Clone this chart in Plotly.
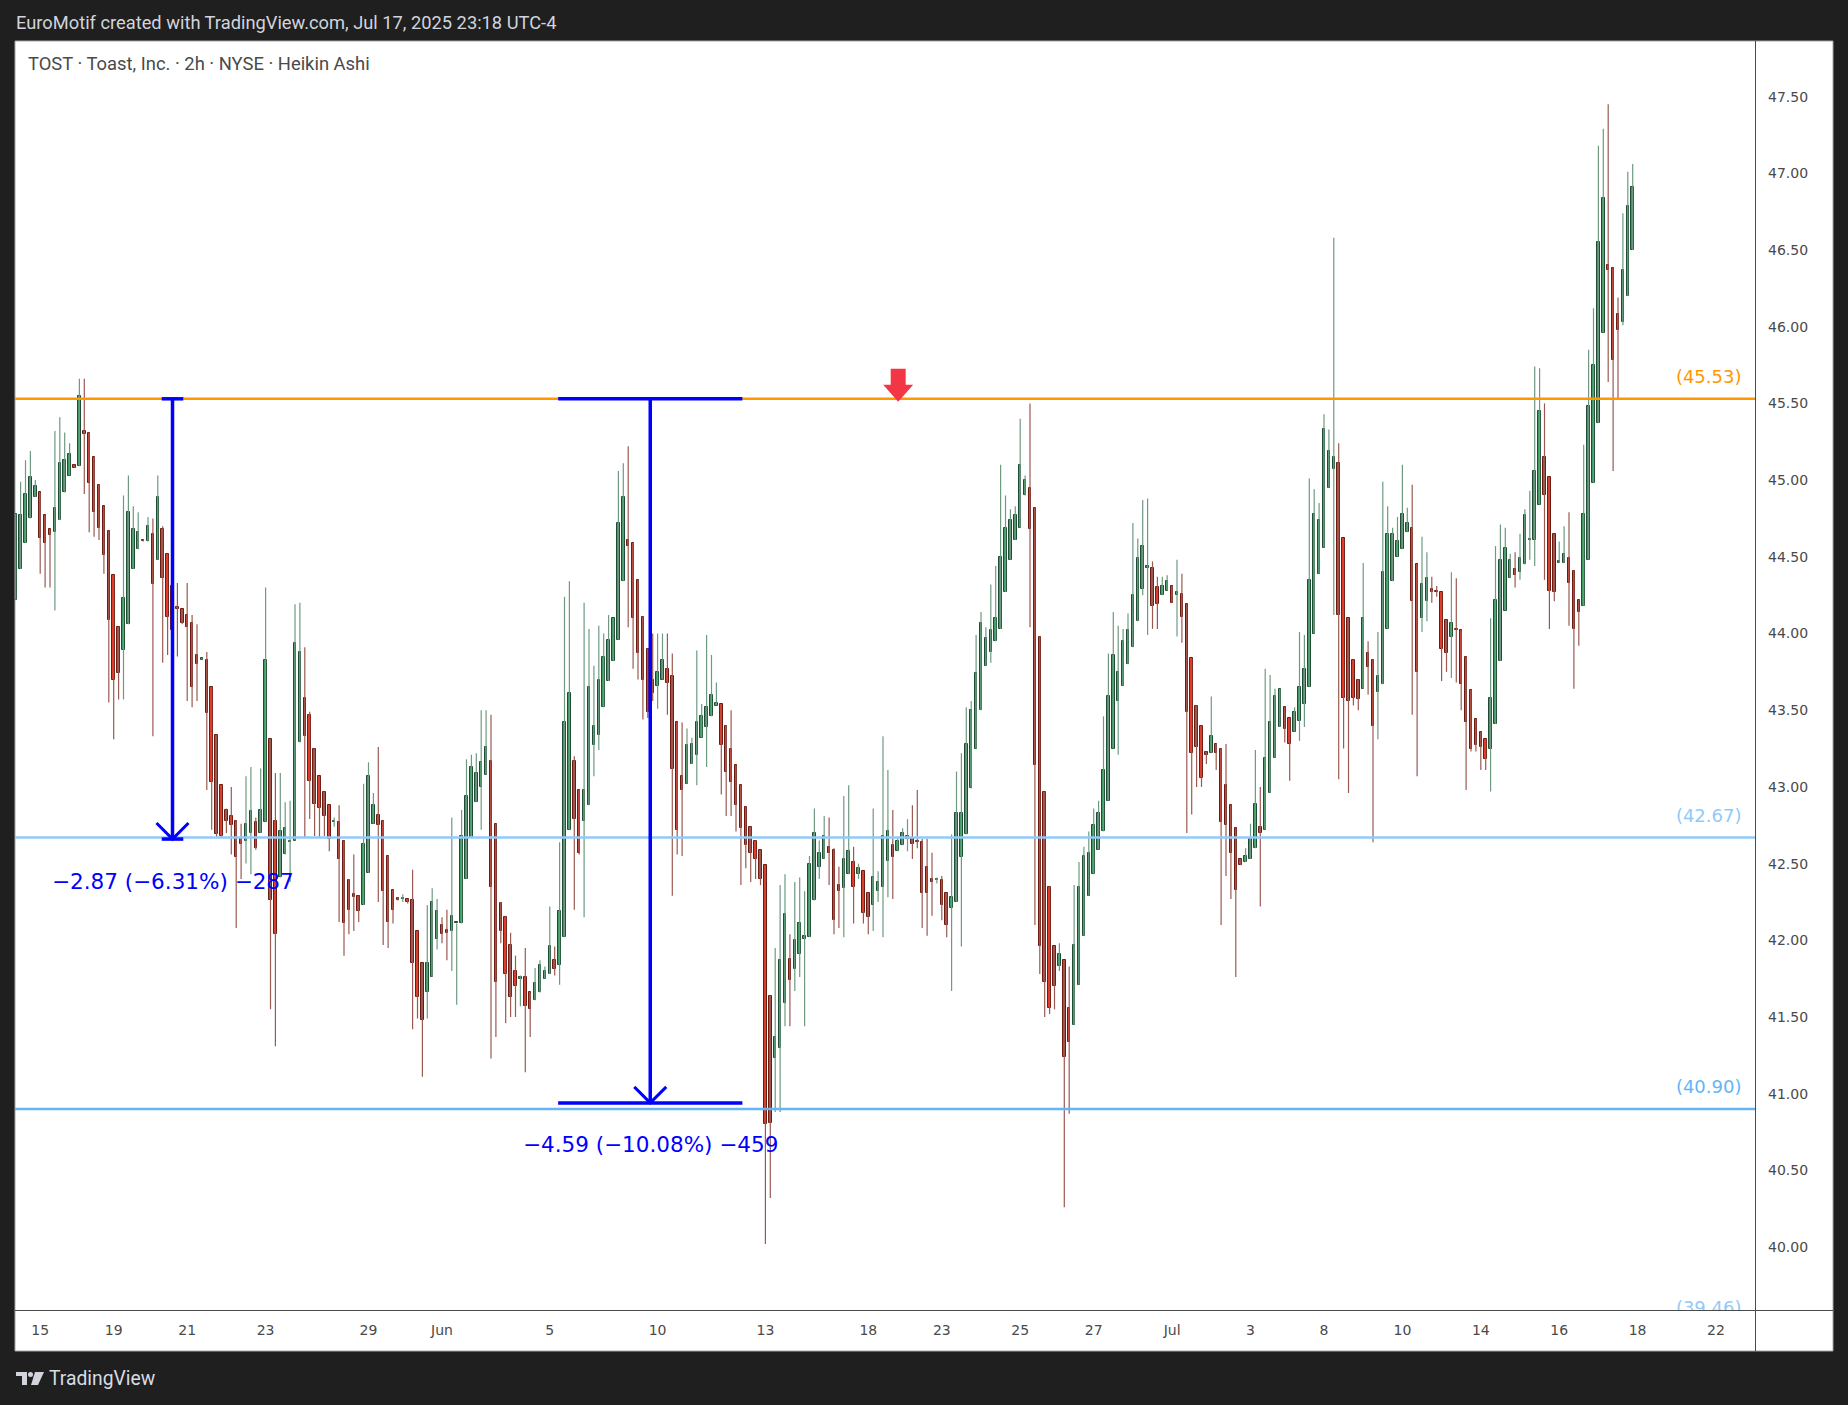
import plotly.graph_objects as go

# ---------------- data (Heikin Ashi, 2h bars, TOST) ----------------
ha_open = [
    44.22, 44.42, 44.59, 44.75, 44.89, 44.92, 44.77, 44.68, 44.66, 44.74,
    44.92, 45.03, 45.10, 45.09, 45.32, 45.31, 45.15, 44.97, 44.83, 44.67,
    44.38, 44.04, 43.89, 44.06, 44.42, 44.55, 44.61, 44.60, 44.65, 44.48,
    44.68, 44.52, 44.31, 44.17, 44.16, 44.12, 44.07, 43.86, 43.83, 43.83,
    43.65, 43.34, 43.01, 42.85, 42.81, 42.78, 42.66, 42.65, 42.70, 42.77,
    42.70, 42.77, 43.31, 42.78, 42.41, 42.56, 42.64, 42.65, 43.29, 43.58,
    43.47, 43.25, 43.07, 42.97, 42.88, 42.77, 42.77, 42.65, 42.39, 42.30,
    42.29, 42.23, 42.44, 42.76, 42.82, 42.78, 42.55, 42.33, 42.27, 42.27,
    42.27, 42.26, 42.06, 41.85, 41.66, 41.76, 42.01, 42.10, 42.07, 42.06,
    42.11, 42.11, 42.40, 42.67, 42.90, 43.00, 43.08, 43.17, 42.76, 42.24,
    42.15, 41.97, 41.80, 41.75, 41.76, 41.66, 41.61, 41.66, 41.75, 41.78,
    41.87, 41.84, 42.02, 42.72, 43.17, 42.98, 42.78, 42.88, 43.27, 43.34,
    43.52, 43.69, 43.82, 43.96, 44.34, 44.61, 44.59, 44.35, 44.11, 43.90,
    43.70, 43.66, 43.70, 43.77, 43.72, 43.42, 43.07, 43.02, 43.15, 43.21,
    43.32, 43.39, 43.46, 43.53, 43.54, 43.40, 43.25, 43.14, 43.01, 42.87,
    42.74, 42.65, 42.59, 42.49, 41.64, 41.23, 41.30, 41.59, 41.88, 41.81,
    41.91, 42.01, 42.02, 42.26, 42.48, 42.53, 42.61, 42.59, 42.36, 42.34,
    42.43, 42.51, 42.43, 42.45, 42.31, 42.23, 42.32, 42.35, 42.52, 42.62,
    42.58, 42.62, 42.66, 42.67, 42.65, 42.64, 42.48, 42.40, 42.39, 42.39,
    42.31, 42.21, 42.25, 42.54, 42.69, 42.99, 43.25, 43.50, 43.79, 43.88,
    43.95, 44.03, 44.27, 44.48, 44.61, 44.69, 44.90, 44.95, 44.82, 43.98,
    42.97, 42.35, 41.96, 41.83, 41.87, 41.56, 41.45, 41.71, 42.03, 42.29,
    42.43, 42.59, 42.71, 42.91, 43.25, 43.56, 43.66, 43.80, 43.91, 44.08,
    44.29, 44.43, 44.43, 44.30, 44.25, 44.28, 44.31, 44.25, 44.26, 44.19,
    43.84, 43.53, 43.40, 43.23, 43.22, 43.28, 43.25, 43.01, 42.88, 42.73,
    42.53, 42.51, 42.53, 42.60, 42.74, 42.72, 42.96, 43.19, 43.39, 43.52,
    43.45, 43.36, 43.43, 43.54, 43.65, 44.00, 44.39, 44.56, 44.95, 45.07,
    45.11, 44.62, 44.10, 43.83, 43.70, 43.64, 43.87, 43.83, 43.62, 43.67,
    44.03, 44.34, 44.50, 44.55, 44.66, 44.69, 44.45, 44.10, 44.21, 44.29,
    44.28, 44.27, 44.09, 43.98, 44.03, 44.02, 43.85, 43.63, 43.44, 43.36,
    43.31, 43.25, 43.41, 43.82, 44.15, 44.36, 44.42, 44.40, 44.45, 44.61,
    44.61, 44.84, 45.15, 45.02, 44.65, 44.46, 44.46, 44.49, 44.41, 44.22,
    44.18, 44.48, 44.98, 45.37, 45.96, 46.40, 46.38, 46.08, 46.03, 46.20,
    46.50,
]
ha_high = [
    44.78, 44.99, 45.13, 45.19, 45.00, 44.92, 44.77, 44.68, 45.32, 45.41,
    45.31, 45.24, 45.10, 45.66, 45.66, 45.31, 45.15, 44.97, 44.83, 44.67,
    44.38, 44.04, 44.90, 45.03, 44.83, 44.79, 44.61, 44.76, 44.75, 45.03,
    44.70, 44.52, 44.31, 44.33, 44.16, 44.33, 44.12, 44.06, 43.84, 43.88,
    43.65, 43.34, 43.01, 42.86, 43.00, 42.78, 42.76, 43.07, 43.13, 42.80,
    43.12, 44.30, 43.31, 43.09, 43.09, 42.90, 42.91, 44.19, 44.20, 43.91,
    43.49, 43.25, 43.07, 42.97, 42.88, 42.80, 42.88, 42.65, 42.40, 42.56,
    42.29, 43.02, 43.16, 42.96, 43.26, 42.78, 42.55, 42.33, 42.28, 42.30,
    42.27, 42.46, 42.06, 41.85, 42.23, 42.34, 42.27, 42.15, 42.20, 42.80,
    42.11, 42.85, 43.18, 43.21, 43.22, 43.50, 43.50, 43.47, 42.76, 42.25,
    42.16, 42.05, 41.90, 41.77, 41.95, 41.66, 41.82, 41.87, 41.83, 42.22,
    41.96, 42.64, 44.24, 44.34, 43.20, 42.98, 44.20, 44.03, 43.79, 44.05,
    44.00, 44.12, 44.10, 45.06, 45.11, 45.22, 44.59, 44.35, 44.11, 43.90,
    44.00, 44.00, 44.00, 44.00, 43.87, 43.42, 43.42, 43.38, 43.32, 43.89,
    43.54, 43.99, 43.86, 43.68, 43.54, 43.40, 43.50, 43.14, 43.01, 42.87,
    42.74, 42.65, 42.59, 42.49, 41.64, 41.95, 42.36, 42.43, 42.04, 42.38,
    42.41, 42.32, 42.55, 42.86, 42.65, 42.81, 42.80, 42.60, 42.48, 42.94,
    43.01, 42.61, 42.50, 42.45, 42.31, 42.86, 42.45, 43.33, 43.11, 42.85,
    42.67, 42.73, 42.79, 42.88, 42.98, 42.66, 42.66, 42.57, 42.41, 42.42,
    42.31, 42.69, 43.10, 43.22, 43.52, 43.56, 43.99, 44.14, 44.04, 44.32,
    44.44, 45.10, 44.90, 44.81, 44.83, 45.40, 45.03, 45.50, 44.82, 43.98,
    42.97, 42.35, 41.96, 41.98, 41.87, 41.83, 42.36, 42.51, 42.61, 42.71,
    42.86, 42.91, 43.46, 43.87, 44.14, 44.05, 44.03, 44.13, 44.72, 44.62,
    44.87, 44.88, 44.47, 44.37, 44.37, 44.38, 44.31, 44.48, 44.39, 44.19,
    43.84, 43.53, 43.40, 43.23, 43.59, 43.28, 43.25, 43.28, 42.88, 42.73,
    42.53, 42.60, 42.76, 43.24, 43.00, 43.77, 43.73, 43.64, 43.64, 43.52,
    43.45, 43.52, 44.01, 43.99, 45.01, 44.94, 44.85, 45.43, 45.33, 46.58,
    45.24, 44.62, 44.10, 43.83, 43.70, 44.46, 43.95, 43.83, 44.01, 44.99,
    44.83, 44.69, 44.76, 45.10, 44.82, 44.97, 44.45, 44.63, 44.53, 44.37,
    44.31, 44.27, 44.09, 44.40, 44.36, 44.02, 43.85, 43.63, 43.44, 43.36,
    43.31, 44.10, 44.57, 44.71, 44.69, 44.52, 44.53, 44.65, 44.81, 44.93,
    45.74, 45.73, 45.50, 45.02, 44.65, 44.60, 44.70, 44.79, 44.41, 44.22,
    45.23, 45.85, 46.12, 47.18, 47.29, 47.45, 46.38, 46.19, 46.74, 47.01,
    47.06,
]
ha_low = [
    44.22, 44.42, 44.59, 44.75, 44.89, 44.39, 44.30, 44.30, 44.15, 44.74,
    44.92, 45.03, 45.08, 45.09, 44.91, 44.66, 44.63, 44.61, 44.39, 43.55,
    43.31, 43.57, 43.57, 44.06, 44.42, 44.55, 44.60, 44.60, 43.33, 44.48,
    43.81, 43.86, 43.82, 43.85, 44.06, 43.56, 43.52, 43.56, 43.83, 42.98,
    42.72, 42.67, 42.67, 42.70, 42.56, 42.08, 42.40, 42.50, 42.43, 42.59,
    42.70, 42.77, 41.55, 41.31, 42.41, 42.56, 42.38, 42.65, 43.29, 42.67,
    42.79, 42.68, 42.67, 42.68, 42.58, 42.74, 42.12, 41.90, 42.04, 42.06,
    42.12, 42.23, 42.44, 42.76, 42.25, 41.97, 41.95, 42.11, 42.26, 42.25,
    42.24, 41.42, 41.49, 41.11, 41.49, 41.76, 41.94, 41.98, 41.87, 41.80,
    41.58, 42.11, 42.40, 42.67, 42.90, 42.72, 43.08, 41.23, 41.37, 41.98,
    41.46, 41.50, 41.50, 41.57, 41.14, 41.37, 41.61, 41.66, 41.75, 41.78,
    41.77, 41.71, 42.02, 42.72, 42.20, 42.56, 42.15, 42.88, 43.07, 43.24,
    43.52, 43.69, 43.82, 43.96, 44.34, 44.04, 43.77, 43.70, 43.44, 43.45,
    43.56, 43.51, 43.70, 43.47, 42.29, 42.56, 42.55, 43.02, 43.15, 43.01,
    43.32, 43.13, 43.46, 43.53, 42.95, 42.81, 42.81, 42.71, 42.36, 42.47,
    42.38, 42.40, 42.36, 40.02, 40.32, 40.88, 40.88, 41.44, 41.44, 41.67,
    41.76, 41.44, 42.02, 42.26, 42.40, 42.53, 42.36, 42.04, 42.08, 42.02,
    42.43, 42.11, 42.40, 42.11, 42.04, 42.06, 42.25, 42.02, 42.28, 42.27,
    42.58, 42.62, 42.58, 42.53, 42.60, 42.08, 42.03, 42.16, 42.37, 42.13,
    42.02, 41.67, 42.25, 41.96, 42.69, 42.99, 43.25, 43.50, 43.79, 43.81,
    43.95, 44.03, 44.27, 44.48, 44.61, 44.69, 44.90, 44.04, 42.10, 41.78,
    41.50, 41.52, 41.55, 41.80, 40.26, 40.87, 41.45, 41.71, 42.03, 42.29,
    42.43, 42.59, 42.71, 42.91, 43.25, 43.21, 43.66, 43.80, 43.91, 44.08,
    44.25, 43.99, 44.03, 44.03, 44.25, 44.28, 44.20, 43.98, 43.94, 42.70,
    42.82, 43.00, 43.00, 43.15, 43.22, 43.11, 42.10, 42.42, 42.27, 41.76,
    42.49, 42.51, 42.53, 42.60, 42.22, 42.72, 42.96, 43.19, 43.39, 43.29,
    43.04, 43.36, 43.30, 43.39, 43.65, 44.00, 44.39, 44.56, 44.95, 44.12,
    43.05, 43.25, 42.96, 43.53, 43.50, 43.64, 43.60, 42.64, 43.31, 43.67,
    44.03, 44.34, 44.50, 44.55, 44.66, 43.47, 43.07, 44.01, 44.08, 44.20,
    44.24, 43.69, 43.75, 43.71, 43.68, 43.50, 42.98, 43.23, 43.23, 43.11,
    43.11, 42.97, 43.41, 43.82, 44.15, 44.36, 44.30, 44.35, 44.45, 44.48,
    44.44, 44.84, 44.35, 44.03, 44.21, 44.46, 44.46, 44.05, 43.64, 43.92,
    44.18, 44.48, 44.98, 45.37, 45.96, 45.64, 45.06, 45.53, 46.01, 46.20,
    46.50,
]
ha_close = [
    44.78, 44.77, 44.91, 45.02, 44.96, 44.62, 44.59, 44.64, 44.82, 45.11,
    45.13, 45.17, 45.08, 45.55, 45.30, 44.98, 44.79, 44.69, 44.51, 44.09,
    43.70, 43.74, 44.23, 44.79, 44.68, 44.66, 44.60, 44.70, 44.32, 44.89,
    44.36, 44.11, 44.02, 44.16, 44.07, 44.04, 43.65, 43.80, 43.84, 43.48,
    43.03, 42.69, 42.68, 42.78, 42.75, 42.54, 42.63, 42.76, 42.84, 42.60,
    42.85, 43.83, 42.26, 42.04, 42.71, 42.73, 42.65, 43.94, 43.88, 43.33,
    43.04, 42.89, 42.86, 42.81, 42.66, 42.77, 42.53, 42.11, 42.20, 42.28,
    42.19, 42.63, 43.07, 42.88, 42.75, 42.32, 42.12, 42.20, 42.265, 42.27,
    42.25, 41.85, 41.63, 41.48, 41.85, 42.25, 42.19, 42.04, 42.05, 42.16,
    42.11, 42.68, 42.94, 43.13, 43.09, 43.16, 43.26, 42.35, 41.73, 42.06,
    41.78, 41.63, 41.70, 41.76, 41.57, 41.55, 41.72, 41.84, 41.80, 41.96,
    41.81, 42.19, 43.42, 43.61, 42.79, 42.57, 42.98, 43.65, 43.40, 43.70,
    43.85, 43.96, 44.10, 44.72, 44.89, 44.57, 44.10, 43.87, 43.70, 43.49,
    43.61, 43.75, 43.83, 43.68, 43.12, 42.72, 42.98, 43.27, 43.28, 43.42,
    43.46, 43.52, 43.60, 43.55, 43.27, 43.10, 43.03, 42.88, 42.73, 42.62,
    42.57, 42.53, 42.40, 40.80, 40.81, 41.37, 41.87, 42.17, 41.74, 42.00,
    42.11, 42.03, 42.50, 42.70, 42.57, 42.68, 42.57, 42.13, 42.32, 42.53,
    42.58, 42.35, 42.47, 42.18, 42.15, 42.41, 42.38, 42.68, 42.71, 42.54,
    42.65, 42.70, 42.68, 42.63, 42.64, 42.31, 42.31, 42.38, 42.39, 42.23,
    42.10, 42.28, 42.83, 42.83, 43.28, 43.50, 43.74, 44.07, 43.97, 44.02,
    44.10, 44.50, 44.69, 44.74, 44.77, 45.10, 45.00, 44.68, 43.14, 41.96,
    41.73, 41.56, 41.70, 41.91, 41.24, 41.34, 41.97, 42.35, 42.55, 42.57,
    42.75, 42.83, 43.11, 43.59, 43.86, 43.75, 43.95, 44.02, 44.25, 44.49,
    44.57, 44.43, 44.18, 44.19, 44.31, 44.34, 44.20, 44.27, 44.11, 43.49,
    43.22, 43.26, 43.06, 43.21, 43.33, 43.22, 42.77, 42.75, 42.57, 42.33,
    42.49, 42.55, 42.66, 42.89, 42.70, 43.19, 43.42, 43.59, 43.64, 43.38,
    43.28, 43.49, 43.65, 43.77, 44.35, 44.78, 44.74, 45.33, 45.19, 45.15,
    44.12, 43.58, 43.56, 43.58, 43.57, 44.10, 43.78, 43.40, 43.72, 44.40,
    44.65, 44.65, 44.60, 44.78, 44.72, 44.21, 43.75, 44.32, 44.36, 44.27,
    44.27, 43.90, 43.87, 44.07, 44.02, 43.67, 43.42, 43.25, 43.27, 43.26,
    43.18, 43.58, 44.22, 44.48, 44.56, 44.48, 44.38, 44.49, 44.77, 44.61,
    45.06, 45.45, 44.90, 44.28, 44.27, 44.47, 44.52, 44.33, 44.03, 44.14,
    44.78, 45.48, 45.75, 46.55, 46.84, 46.37, 45.78, 45.98, 46.37, 46.79,
    46.91,
]

# date tick labels (bar index of first bar of each labelled day)
tick_pos = [5, 20, 35, 51, 72, 87, 109, 131, 153, 174, 189, 205, 220, 236, 252, 267, 283, 299, 315, 331, 347]
tick_text = ["15", "19", "21", "23", "29", "Jun", "5", "10", "13", "18", "23", "25", "27",
             "Jul", "3", "8", "10", "14", "16", "18", "22"]

price_ticks = [40.0, 40.5, 41.0, 41.5, 42.0, 42.5, 43.0, 43.5, 44.0, 44.5, 45.0, 45.5, 46.0, 46.5, 47.0, 47.5]

# horizontal levels
level_values = [45.53, 42.67, 40.90, 39.46]
level_colors = ["#ff9800", "#90caf9", "#64b5f6", "#90caf9"]

# price range tools: (left bar, right bar, start price, end price, label)
range_left = [29.8, 110.7]
range_right = [34.2, 148.3]
range_start = [45.53, 45.53]
range_end = [42.66, 40.94]
range_labels = ["\u22122.87 (\u22126.31%) \u2212287", "\u22124.59 (\u221210.08%) \u2212459"]

arrow_bar = 180.1
arrow_price = 45.51

header_text = "EuroMotif created with TradingView.com, Jul 17, 2025 23:18 UTC-4"
title_text = "TOST \u00b7 Toast, Inc. \u00b7 2h \u00b7 NYSE \u00b7 Heikin Ashi"

# ---------------- geometry ----------------
W, H = 1848, 1405
ML, MR, MT, MB = 15, 93, 41, 95
PW, PH = W - ML - MR, H - MT - MB
X_RANGE = [-0.143, 354.96]
Y_RANGE = [39.59, 47.8625]
ppx = PW / (X_RANGE[1] - X_RANGE[0])
ppy = PH / (Y_RANGE[1] - Y_RANGE[0])


def px(X):
    return (X - ML) / PW


def py(Y):
    return (H - MB - Y) / PH


BG = "#1f1f1f"
UP_FILL, UP_LINE, UP_WICK = "#3f9a62", "#1d4d33", "#6f9a82"
DN_FILL, DN_LINE, DN_WICK = "#e23b2a", "#6e1a10", "#9a5a52"
BLUE = "#0000ff"
AX_FONT = "DejaVu Sans"

n = len(ha_close)
idx = list(range(n))
is_up = [c >= o for o, c in zip(ha_open, ha_close)]

fig = go.Figure()

# wicks
for up, col in ((True, UP_WICK), (False, DN_WICK)):
    xs, ys = [], []
    for i in idx:
        if is_up[i] == up:
            xs += [i, i, None]
            ys += [ha_low[i], ha_high[i], None]
    fig.add_trace(go.Scatter(x=xs, y=ys, mode="lines", line=dict(color=col, width=1.2),
                             hoverinfo="skip", showlegend=False))

# bodies
base = [min(o, c) for o, c in zip(ha_open, ha_close)]
height = [max(abs(c - o), 0.008) for o, c in zip(ha_open, ha_close)]
fig.add_trace(go.Bar(
    x=idx, y=height, base=base, width=0.5,
    marker=dict(color=[UP_FILL if u else DN_FILL for u in is_up],
                line=dict(color=[UP_LINE if u else DN_LINE for u in is_up], width=1)),
    hoverinfo="skip", showlegend=False))

# level labels (clipped at plot edge)
label_off = 20.5 / ppy
fig.add_trace(go.Scatter(
    x=[352.2] * len(level_values),
    y=[v + label_off for v in level_values],
    mode="text",
    text=["(%.2f)" % v for v in level_values],
    textposition="middle left",
    textfont=dict(family=AX_FONT, size=18, color=level_colors),
    cliponaxis=True, hoverinfo="skip", showlegend=False))

shapes = []
# white chart frame
shapes.append(dict(type="rect", xref="paper", yref="paper", x0=px(15), x1=px(1833), y0=py(1351), y1=py(41),
                   fillcolor="white", line=dict(color="#a3a6af", width=1), layer="below"))
# axis separator lines
shapes.append(dict(type="line", xref="paper", yref="paper", x0=px(15), x1=px(1833), y0=py(1310.5), y1=py(1310.5),
                   line=dict(color="#4a4a4a", width=1)))
shapes.append(dict(type="line", xref="paper", yref="paper", x0=px(1755.5), x1=px(1755.5), y0=py(1351), y1=py(41),
                   line=dict(color="#4a4a4a", width=1)))

# horizontal levels
for v, c in zip(level_values, level_colors):
    shapes.append(dict(type="line", xref="paper", yref="y", x0=0, x1=1, y0=v, y1=v,
                       line=dict(color=c, width=2.5)))

# price range tools
for xl, xr, ps, pe in zip(range_left, range_right, range_start, range_end):
    xc = (xl + xr) / 2
    ln = dict(color=BLUE, width=3.5)
    shapes.append(dict(type="line", x0=xc, x1=xc, y0=ps, y1=pe, line=ln))
    shapes.append(dict(type="line", x0=xl, x1=xr, y0=ps, y1=ps, line=ln))
    shapes.append(dict(type="line", x0=xl, x1=xr, y0=pe, y1=pe, line=ln))
    dx, dy = 16 / ppx, 16 / ppy
    shapes.append(dict(type="path", path="M %f,%f L %f,%f L %f,%f" % (xc - dx, pe + dy, xc, pe, xc + dx, pe + dy),
                       line=dict(color=BLUE, width=3)))

# red arrow marker
shapes.append(dict(type="path", xref="x", yref="y", xsizemode="pixel", ysizemode="pixel",
                   xanchor=arrow_bar, yanchor=arrow_price,
                   path="M -7.5,33 L 7.5,33 L 7.5,17 L 15,17 L 0,0 L -15,17 L -7.5,17 Z",
                   fillcolor="#f23645", line=dict(width=0)))

# TradingView logo (footer)
logo_col = "#d1d4dc"
shapes.append(dict(type="path", xref="paper", yref="paper", xsizemode="pixel", ysizemode="pixel",
                   xanchor=px(16), yanchor=py(1385),
                   path="M 0,13 L 11,13 L 11,0 L 6,0 L 6,9 L 0,9 Z",
                   fillcolor=logo_col, line=dict(width=0)))
shapes.append(dict(type="circle", xref="paper", yref="paper", xsizemode="pixel", ysizemode="pixel",
                   xanchor=px(16), yanchor=py(1385), x0=12, x1=17, y0=8, y1=13,
                   fillcolor=logo_col, line=dict(width=0)))
shapes.append(dict(type="path", xref="paper", yref="paper", xsizemode="pixel", ysizemode="pixel",
                   xanchor=px(16), yanchor=py(1385),
                   path="M 19,13 L 28,13 L 22,0 L 15,0 Z",
                   fillcolor=logo_col, line=dict(width=0)))

annotations = []
for xl, xr, pe, txt in zip(range_left, range_right, range_end, range_labels):
    annotations.append(dict(x=(xl + xr) / 2, y=pe, yshift=-42, text=txt, showarrow=False,
                            xanchor="center", yanchor="middle",
                            font=dict(family=AX_FONT, size=21.5, color=BLUE)))
annotations.append(dict(xref="paper", yref="paper", x=px(14), y=py(22.5), text=header_text, showarrow=False,
                        xanchor="left", yanchor="middle", font=dict(family="Roboto", size=18.3, color="#d1d4dc")))
annotations.append(dict(xref="paper", yref="paper", x=px(26), y=py(63), text=title_text, showarrow=False,
                        xanchor="left", yanchor="middle", font=dict(family="Roboto", size=18.4, color="#4a4a4a")))
annotations.append(dict(xref="paper", yref="paper", x=px(47), y=py(1378), text="TradingView", showarrow=False,
                        xanchor="left", yanchor="middle", font=dict(family="Roboto", size=19.3, color="#d9dce3")))

fig.update_layout(
    width=W, height=H,
    margin=dict(l=ML, r=MR, t=MT, b=MB, pad=0),
    paper_bgcolor=BG, plot_bgcolor="white",
    showlegend=False, dragmode=False, hovermode=False,
    shapes=shapes, annotations=annotations,
    xaxis=dict(range=X_RANGE, showgrid=False, zeroline=False, showline=False,
               tickmode="array", tickvals=tick_pos, ticktext=tick_text, ticks="",
               tickfont=dict(family=AX_FONT, size=14, color="#4a4a4a"), ticklabelstandoff=10,
               fixedrange=True),
    yaxis=dict(range=Y_RANGE, side="right", showgrid=False, zeroline=False, showline=False,
               tickmode="array", tickvals=price_ticks, ticktext=["%.2f" % v for v in price_ticks], ticks="",
               tickfont=dict(family=AX_FONT, size=14, color="#4a4a4a"), ticklabelstandoff=12,
               fixedrange=True),
    bargap=0,
)

fig.write_html("out.html", config={"displayModeBar": False},
               post_script="document.body.style.margin='0';document.body.style.overflow='hidden';")
